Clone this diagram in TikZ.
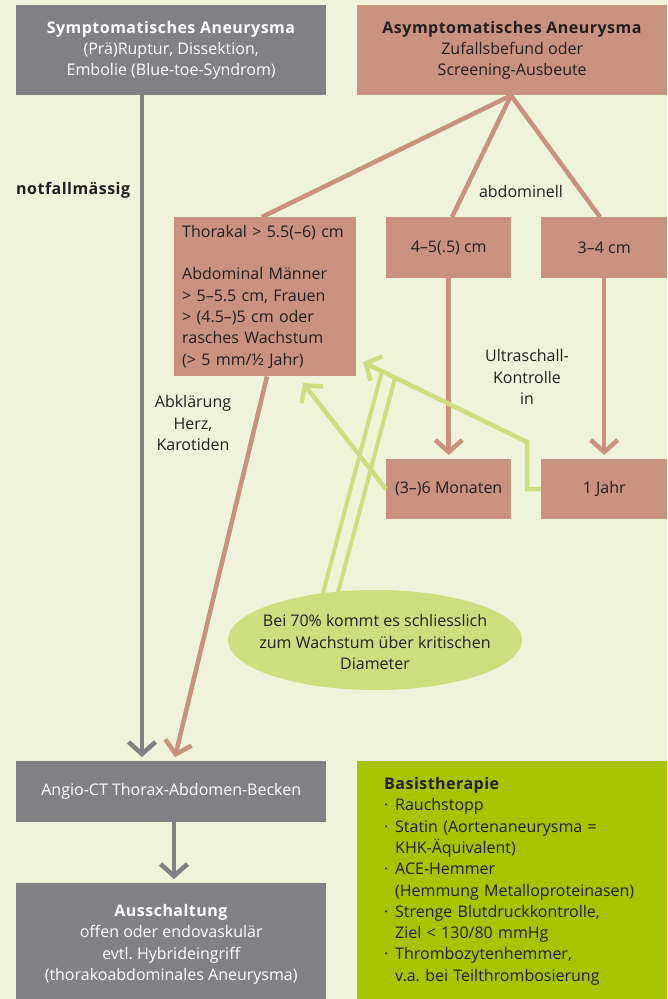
\documentclass[tikz,border=0pt]{standalone}
\usepackage{fontspec}
\setmainfont{Open Sans}[BoldFeatures={LetterSpace=3}]
\usetikzlibrary{arrows.meta,shapes.geometric}
\definecolor{bg}{RGB}{239,243,217}
\definecolor{boxgray}{RGB}{129,128,133}
\definecolor{salmon}{RGB}{201,146,126}
\definecolor{lime}{RGB}{205,222,128}
\definecolor{basis}{RGB}{167,196,0}
\definecolor{ink}{RGB}{35,31,32}
\newcommand{\bitem}[1]{\makebox[11pt][l]{·}#1}
\newcommand{\bcont}[1]{\hspace*{11pt}#1}
\frenchspacing
\begin{document}
\begin{tikzpicture}[x=1pt,y=-1pt,
  font=\fontsize{16}{21.3}\selectfont,
  panel/.style={rectangle,inner sep=0pt,anchor=north west,align=center},
  graybox/.style={panel,fill=boxgray,text=white},
  rosebox/.style={panel,fill=salmon,text=ink},
  lbl/.style={text=ink,align=center,inner sep=0pt},
  chev/.style={-{Straight Barb[length=12pt,width=27pt]}},
  grayline/.style={draw=boxgray,line width=4.5pt},
  roseline/.style={draw=salmon,line width=4.5pt},
  limeline/.style={draw=lime,line width=4.5pt},
  twinline/.style={draw=lime,line width=4pt}]
% background and page frame
\fill[bg] (0,0) rectangle (667,999);
\useasboundingbox (0,0) rectangle (667,999);

% top row
\node[graybox,minimum width=310pt,minimum height=90pt] (sym) at (16,5)
  {\textbf{Symptomatisches Aneurysma}\\(Prä)Ruptur, Dissektion,\\Embolie (Blue-toe-Syndrom)};
\node[rosebox,minimum width=310pt,minimum height=90pt] (asym) at (357,5)
  {\textbf{Asymptomatisches Aneurysma}\\Zufallsbefund oder\\Screening-Ausbeute};

% size classes
\node[rosebox,minimum width=182pt,minimum height=159pt,align=left,text width=166pt,inner xsep=8pt] (thor) at (174,217)
  {Thorakal > 5.5(–6) cm\\[21.3pt]Abdominal Männer\\> 5–5.5 cm, Frauen\\> (4.5–)5 cm oder\\rasches Wachstum\\(> 5 mm/½ Jahr)};
\node[rosebox,minimum width=125pt,minimum height=61pt] (abdA) at (386,217) {4–5(.5) cm};
\node[rosebox,minimum width=126pt,minimum height=61pt] (abdB) at (541,217) {3–4 cm};

% control intervals
\node[rosebox,minimum width=125pt,minimum height=60pt] (mon) at (386,459) {(3–)6 Monaten};
\node[rosebox,minimum width=126pt,minimum height=60pt] (jahr) at (541,459) {1 Jahr};

% bottom row
\node[graybox,minimum width=310pt,minimum height=61pt] (angio) at (16,761) {Angio-CT Thorax-Abdomen-Becken};
\node[graybox,minimum width=310pt,minimum height=122pt] (aus) at (16,883)
  {\textbf{Ausschaltung}\\offen oder endovaskulär\\evtl. Hybrideingriff\\(thorakoabdominales Aneurysma)};
\node[panel,fill=basis,text=ink,minimum width=310pt,minimum height=240pt,align=left,text width=256pt,inner xsep=27pt] (basis) at (357,761)
  {\textbf{Basistherapie}\\
   \bitem{Rauchstopp}\\
   \bitem{Statin (Aortenaneurysma =}\\
   \bcont{KHK-Äquivalent)}\\
   \bitem{ACE-Hemmer}\\
   \bcont{(Hemmung Metalloproteinasen)}\\
   \bitem{Strenge Blutdruckkontrolle,}\\
   \bcont{Ziel < 130/80 mmHg}\\
   \bitem{Thrombozytenhemmer,}\\
   \bcont{v.a. bei Teilthrombosierung}};

% free labels
\node[lbl,anchor=west] (notf) at (16,190) {\textbf{notfallmässig}};
\node[lbl] (abdl) at (521,191) {abdominell};
\node[lbl] (abkl) at (193,423) {Abklärung\\Herz,\\Karotiden};
\node[lbl] (usk) at (527,377) {Ultraschall-\\Kontrolle\\in};

% reference columns and end points
\coordinate (gx) at (142,0);
\coordinate (ax) at (174,0);
\coordinate (thx) at (267,0);
\coordinate (apx) at (511,0);
\coordinate (t1) at (262,0);
\coordinate (t2) at (452,0);
\coordinate (t3) at (600,0);
\coordinate (g1end) at (303,383);
\coordinate (g2bend) at (527,442);
\coordinate (g2end) at (363,362);
\coordinate (d1a) at (320,604);
\coordinate (d1b) at (382,371);
\coordinate (d2a) at (335,604);
\coordinate (d2b) at (395,378);

% emergency path
\draw[grayline,chev,shorten >=4pt] (sym.south -| gx) -- (angio.north -| gx);
\draw[grayline,chev,shorten >=4pt] (angio.south -| ax) -- (aus.north -| ax);

% asymptomatic branches
\draw[roseline] (asym.south -| apx) -- (thor.north -| t1);
\draw[roseline] (asym.south -| apx) -- (abdA.north -| t2);
\draw[roseline] (asym.south -| apx) -- (abdB.north -| t3);
\draw[roseline,chev,shorten >=4pt] (abdA.south) -- (mon.north);
\draw[roseline,chev,shorten >=4pt] (abdB.south) -- (jahr.north);
\draw[roseline,chev,shorten >=4pt] (thor.south -| thx) -- (angio.north -| ax);

% growth feedback
\draw[limeline,chev] (mon.west) -- (g1end);
\draw[limeline,chev] (jahr.west) -| (g2bend) -- (g2end);
\draw[twinline] (d1a) -- (d1b);
\draw[twinline] (d2a) -- (d2b);
\node[ellipse,fill=lime,minimum width=294pt,minimum height=100pt,inner sep=0pt] (oval) at (375,640) {};
\node[lbl] (ovaltext) at ([yshift=-2pt]oval.center)
  {Bei 70\% kommt es schliesslich\\zum Wachstum über kritischen\\Diameter};
\end{tikzpicture}
\end{document}
